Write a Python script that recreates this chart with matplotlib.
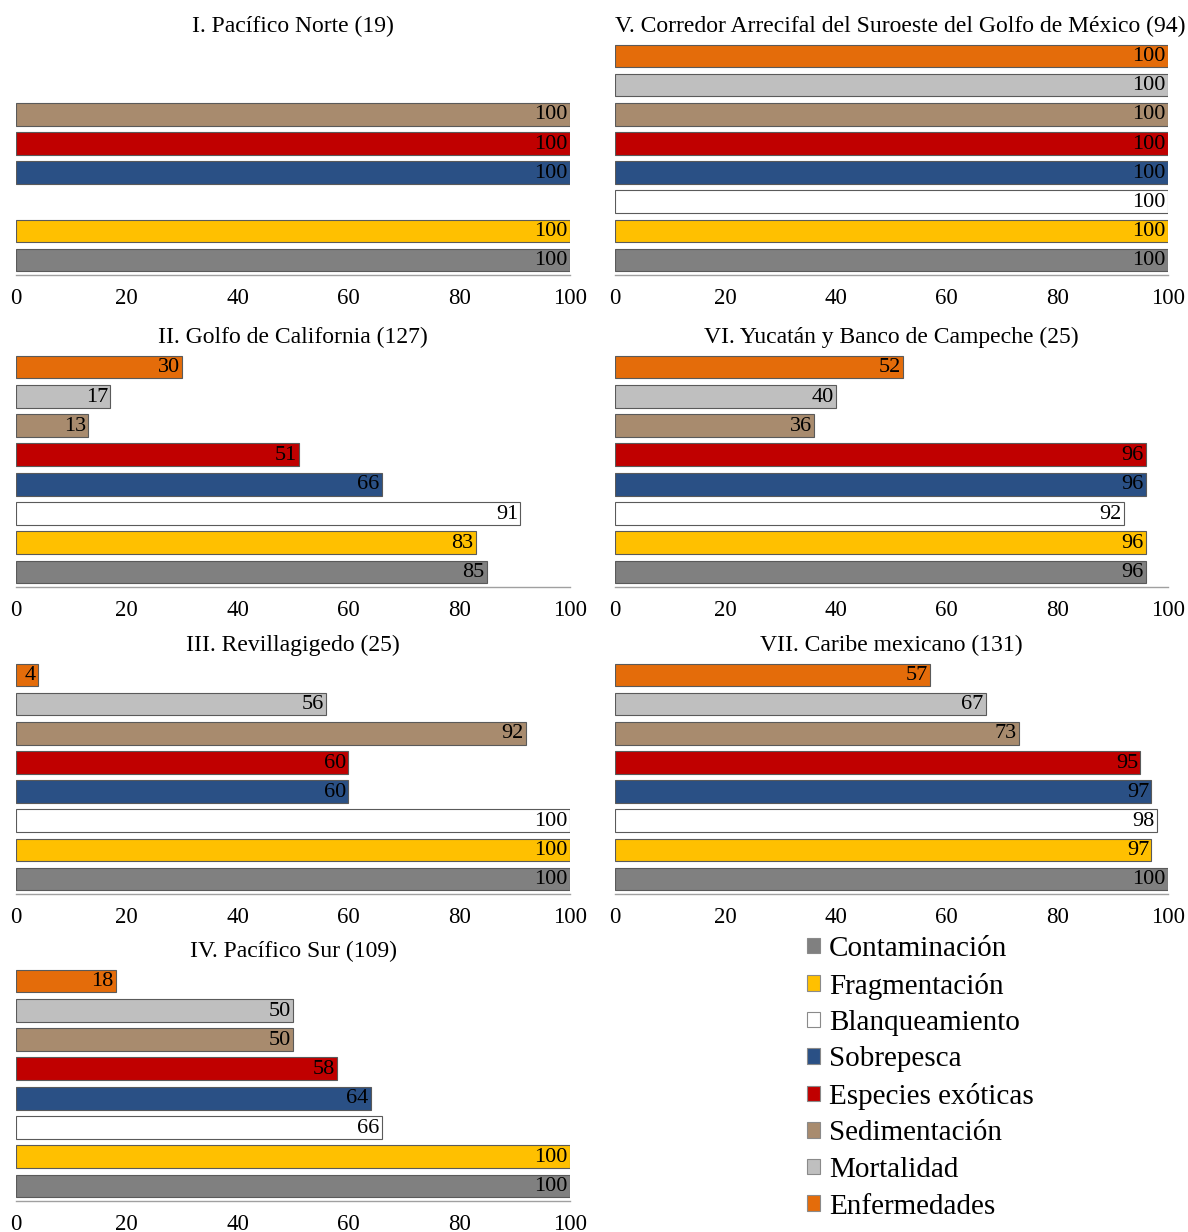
import numpy as np
import matplotlib
matplotlib.use("Agg")
import matplotlib.pyplot as plt
from matplotlib.patches import Patch
import matplotlib.transforms as mtransforms

plt.rcParams['font.family'] = ['Liberation Serif', 'DejaVu Serif']

categories = ["Contaminación", "Fragmentación", "Blanqueamiento", "Sobrepesca",
              "Especies exóticas", "Sedimentación", "Mortalidad", "Enfermedades"]
colors = ["#808080", "#FFC000", "#FFFFFF", "#2A5085", "#C00000", "#A88B6E", "#BFBFBF", "#E46C0A"]

titles = ["I. Pacífico Norte (19)",
          "II. Golfo de California (127)",
          "III. Revillagigedo (25)",
          "IV. Pacífico Sur (109)",
          "V. Corredor Arrecifal del Suroeste del Golfo de México (94)",
          "VI. Yucatán y Banco de Campeche (25)",
          "VII. Caribe mexicano (131)"]

# values ordered as categories (Contaminación ... Enfermedades); None = no bar
v_I   = [100, 100, None, 100, 100, 100, None, None]
v_II  = [85, 83, 91, 66, 51, 13, 17, 30]
v_III = [100, 100, 100, 60, 60, 92, 56, 4]
v_IV  = [100, 100, 66, 64, 58, 50, 50, 18]
v_V   = [100, 100, 100, 100, 100, 100, 100, 100]
v_VI  = [96, 96, 92, 96, 96, 36, 40, 52]
v_VII = [100, 97, 98, 97, 95, 73, 67, 57]
panels = [v_I, v_II, v_III, v_IV, v_V, v_VI, v_VII]
xticks = [0, 20, 40, 60, 80, 100]

W, H = 1188, 1232
fig = plt.figure(figsize=(W / 100, H / 100), dpi=100)

rows_px = [(41.4, 274.6), (352.4, 586.6), (660.4, 893.6), (966.4, 1200.6)]
cols_px = [(16, 570), (615, 1168)]

positions = []
for c in range(2):
    for r in range(4):
        if c == 1 and r == 3:
            continue
        x0, x1 = cols_px[c]
        y0, y1 = rows_px[r]
        positions.append([x0 / W, 1 - y1 / H, (x1 - x0) / W, (y1 - y0) / H])

title_x = [0.5, 0.5, 0.5, 0.5, 0.516, 0.5, 0.5]

for pos, vals, title, tx in zip(positions, panels, titles, title_x):
    ax = fig.add_axes(pos)
    for i, (v, col) in enumerate(zip(vals, colors)):
        if v is None:
            continue
        ax.barh(i, v, height=0.78, color=col, edgecolor="#5a5a5a", linewidth=0.8)
        off = mtransforms.offset_copy(ax.transData, fig=fig, x=-1.5, y=-0.5, units='points')
        ax.text(v, i, str(v), ha='right', va='center', fontsize=16, color='black',
                transform=off)
    ax.set_xlim(0, 100)
    ax.set_ylim(-0.5, 7.5)
    ax.set_yticks([])
    ax.set_xticks(xticks)
    ax.set_xticklabels([str(t) for t in xticks], fontsize=16.5)
    ax.tick_params(axis='x', length=0, pad=10)
    for s in ['top', 'left', 'right']:
        ax.spines[s].set_visible(False)
    ax.spines['bottom'].set_color('#A0A0A0')
    ax.spines['bottom'].set_linewidth(1.0)
    ax.set_title(title, fontsize=17, pad=7, x=tx)

handles = [Patch(facecolor=c, edgecolor="#8a8a8a", linewidth=0.8) for c in colors]
fig.legend(handles, categories, loc='upper left',
           bbox_to_anchor=(807 / W, 1 - 936 / H), frameon=False,
           fontsize=21, handlelength=0.45, handleheight=0.45,
           handletextpad=0.3, labelspacing=0.36, borderaxespad=0, borderpad=0)

fig.savefig("out.png", dpi=100)
